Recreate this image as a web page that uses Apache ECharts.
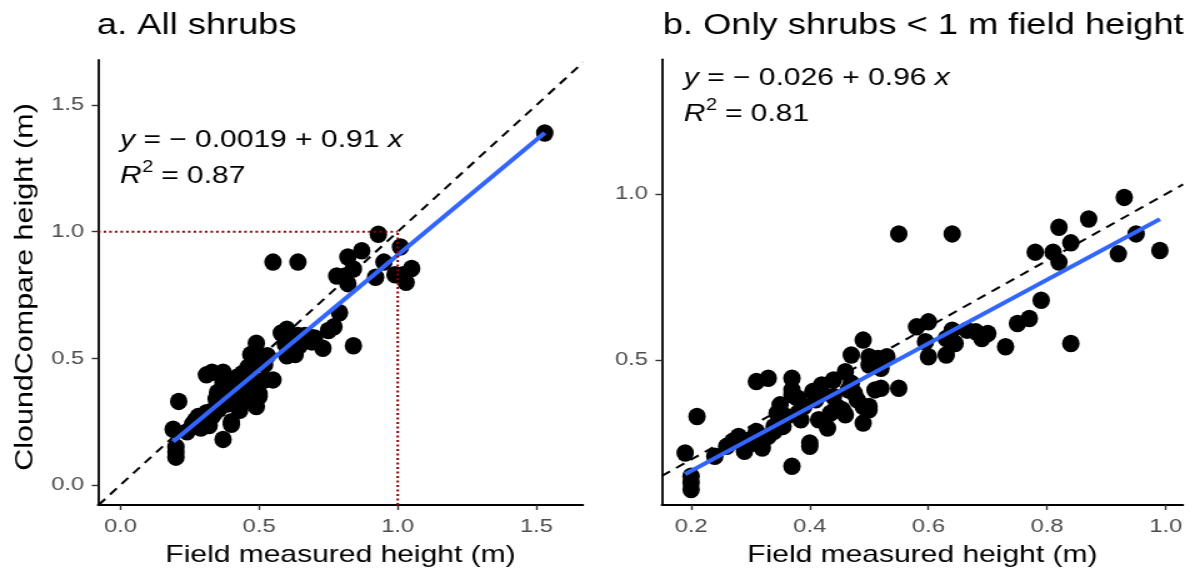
<!DOCTYPE html>
<html><head><meta charset="utf-8">
<script src="https://cdn.jsdelivr.net/npm/echarts@6/dist/echarts.min.js"></script>
<style>
html,body{margin:0;padding:0;background:#fff;overflow:hidden}
#wrap{width:1200px;height:581px;overflow:hidden}
#c{width:960px;height:581px;transform:scaleX(1.25);transform-origin:0 0}
</style></head><body><div id="wrap"><div id="c"></div></div>
<script>
const SX = 1.25;
const FONT = "'Liberation Sans', Arial, Helvetica, sans-serif";

const fieldHeight = [0.55,0.64,0.21,0.19,0.20,0.20,0.20,0.24,0.37,0.31,0.33,0.37,0.49,0.40,0.49,0.47,0.52,0.55,0.50,
  0.28,0.29,0.305,0.31,0.32,0.34,0.34,0.345,0.35,0.355,0.37,0.37,0.38,0.38,0.385,0.40,0.405,0.41,0.415,0.42,0.42,
  0.43,0.435,0.44,0.445,0.455,0.46,0.46,0.465,0.475,0.48,0.49,0.50,0.50,0.50,0.51,0.515,0.52,0.53,0.51,
  0.58,0.60,0.60,0.595,0.63,0.63,0.64,0.645,0.665,0.68,0.69,0.70,0.73,0.75,0.77,0.79,0.84,
  0.78,0.81,0.82,0.84,0.82,0.87,0.93,0.95,0.92,0.99,1.01,1.05,1.03,1.02,1.53,
  0.26,0.27,0.30,0.33,0.36,0.39,0.44,0.47];
const cloudHeight = [0.88,0.88,0.33,0.22,0.15,0.13,0.11,0.21,0.18,0.435,0.445,0.445,0.56,0.25,0.31,0.515,0.415,0.415,0.36,
  0.27,0.225,0.25,0.285,0.235,0.285,0.30,0.34,0.365,0.30,0.41,0.395,0.385,0.34,0.32,0.24,0.405,0.38,0.32,0.425,0.40,
  0.295,0.34,0.44,0.36,0.35,0.465,0.335,0.41,0.40,0.38,0.36,0.35,0.51,0.485,0.49,0.505,0.475,0.51,0.41,
  0.60,0.615,0.51,0.555,0.565,0.515,0.59,0.55,0.59,0.585,0.565,0.58,0.54,0.61,0.625,0.68,0.55,
  0.825,0.825,0.795,0.853,0.90,0.925,0.99,0.88,0.82,0.83,0.94,0.855,0.80,0.83,1.39,
  0.24,0.255,0.26,0.27,0.33,0.36,0.39,0.43];

const ticksA = [0.0, 0.5, 1.0, 1.5];
const ticksBx = [0.2, 0.4, 0.6, 0.8, 1.0];
const ticksBy = [0.5, 1.0];
const coefA = [-0.0019, 0.91];
const coefB = [-0.026, 0.96];
const r2 = ['0.87', '0.81'];
const eqText = ['= − 0.0019 + 0.91', '= − 0.026 + 0.96'];
const titles = ['a. All shrubs', 'b. Only shrubs < 1 m field height'];
const xTitle = 'Field measured height (m)';
const yTitle = 'CloundCompare height (m)';
const refLevel = 1.0;

const ptsA = fieldHeight.map((x, i) => [x, cloudHeight[i]]);
const ptsB = ptsA.filter(p => p[0] < 1);

const rA = {x: [-0.081, 1.668], y: [-0.079, 1.678]};
const rB = {x: [0.1506, 1.029], y: [0.0633, 1.406]};

const mctx = document.createElement('canvas').getContext('2d');
function tw(font, s) { mctx.font = font; return mctx.measureText(s).width; }

function fit(pts, c) {
  const xs = pts.map(p => p[0]);
  const lo = Math.min(...xs), hi = Math.max(...xs);
  return [[lo, c[0] + c[1] * lo], [hi, c[0] + c[1] * hi]];
}
function oneToOne(r) {
  const lo = Math.max(r.x[0], r.y[0]), hi = Math.min(r.x[1], r.y[1]);
  return [[lo, lo], [hi, hi]];
}
function axis(idx, r, ticks, isY) {
  return {
    type: 'value', gridIndex: idx, min: r[0], max: r[1],
    splitLine: {show: false},
    axisLine: {show: true, onZero: false, lineStyle: {color: '#000', width: 1.8}},
    axisTick: {show: true, customValues: ticks, length: 5, lineStyle: {color: '#333', width: 1.4}},
    axisLabel: {customValues: ticks, formatter: v => v.toFixed(1), color: '#4D4D4D',
      fontSize: 19, fontFamily: FONT, margin: isY ? 11 : 12},
    nameTextStyle: {color: '#000', fontSize: 24, fontFamily: FONT}
  };
}
const dotSize = [17.5 / SX, 17.5];

const EQF = 24;
function txt(x, y, text, extra) {
  return {type: 'text', x: x, y: y, z: 100,
    style: Object.assign({text: text, fill: '#000', align: 'left', verticalAlign: 'middle',
      fontSize: 29, fontFamily: FONT}, extra || {})};
}
function equation(x0, y1, y2, eq, r2v) {
  const itF = 'italic ' + EQF + 'px ' + FONT;
  const nF = EQF + 'px ' + FONT;
  const wy = tw(itF, 'y'), wsp = tw(nF, ' ');
  const wEq = tw(nF, eq);
  const wR = tw(itF, 'R'), w2 = tw('16px ' + FONT, '2');
  const it = {fontSize: EQF, fontStyle: 'italic', fontFamily: FONT};
  const nn = {fontSize: EQF, fontFamily: FONT};
  return [
    txt(x0, y1, 'y', it),
    txt(x0 + wy + wsp, y1, eq, nn),
    txt(x0 + wy + 2 * wsp + wEq, y1, 'x', it),
    txt(x0, y2, 'R', it),
    txt(x0 + wR + 0.5, y2 - 8, '2', {fontSize: 16, fontFamily: FONT}),
    txt(x0 + wR + w2 + wsp, y2, '= ' + r2v, nn)
  ];
}

const option = {
  animation: false,
  backgroundColor: '#fff',
  grid: [
    {left: 78.4, top: 60, width: 388, height: 445},
    {left: 529.4, top: 59.3, width: 417, height: 445.7}
  ],
  xAxis: [
    Object.assign(axis(0, rA.x, ticksA, false), {name: xTitle, nameLocation: 'middle', nameGap: 38}),
    Object.assign(axis(1, rB.x, ticksBx, false), {name: xTitle, nameLocation: 'middle', nameGap: 38})
  ],
  yAxis: [
    axis(0, rA.y, ticksA, true),
    axis(1, rB.y, ticksBy, true)
  ],
  series: [
    {type: 'scatter', xAxisIndex: 0, yAxisIndex: 0, data: ptsA, symbolSize: dotSize,
      itemStyle: {color: '#000', opacity: 1}, z: 2},
    {type: 'line', xAxisIndex: 0, yAxisIndex: 0, data: oneToOne(rA), symbol: 'none', z: 3,
      lineStyle: {color: '#000', width: 2, type: [8, 6]}},
    {type: 'line', xAxisIndex: 0, yAxisIndex: 0, data: fit(ptsA, coefA), symbol: 'none', z: 4,
      lineStyle: {color: '#3366FF', width: 4}},
    {type: 'line', xAxisIndex: 0, yAxisIndex: 0, data: [[rA.x[0], refLevel], [refLevel, refLevel]], symbol: 'none', z: 5,
      lineStyle: {color: '#8B0000', width: 2, type: [2, 2.5]}},
    {type: 'line', xAxisIndex: 0, yAxisIndex: 0, data: [[refLevel, rA.y[0]], [refLevel, refLevel]], symbol: 'none', z: 5,
      lineStyle: {color: '#8B0000', width: 2, type: [2, 2.5]}},
    {type: 'scatter', xAxisIndex: 1, yAxisIndex: 1, data: ptsB, symbolSize: dotSize,
      itemStyle: {color: '#000', opacity: 1}, z: 2},
    {type: 'line', xAxisIndex: 1, yAxisIndex: 1, data: oneToOne(rB), symbol: 'none', z: 3,
      lineStyle: {color: '#000', width: 2, type: [8, 6]}},
    {type: 'line', xAxisIndex: 1, yAxisIndex: 1, data: fit(ptsB, coefB), symbol: 'none', z: 4,
      lineStyle: {color: '#3366FF', width: 4}}
  ],
  graphic: [
    txt(77.6, 26, titles[0]),
    txt(530.2, 26, titles[1]),
    {type: 'text', x: 20, y: 287, rotation: Math.PI / 2, scaleX: 1.27, scaleY: 0.86, z: 100,
      style: {text: yTitle, fill: '#000', align: 'center', verticalAlign: 'middle', fontSize: 24, fontFamily: FONT}}
  ].concat(equation(96, 140, 176, eqText[0], r2[0]))
   .concat(equation(547, 78, 114, eqText[1], r2[1]))
};
const chart = echarts.init(document.getElementById('c'), null, {renderer: 'canvas'});
chart.setOption(option);
</script></body></html>
